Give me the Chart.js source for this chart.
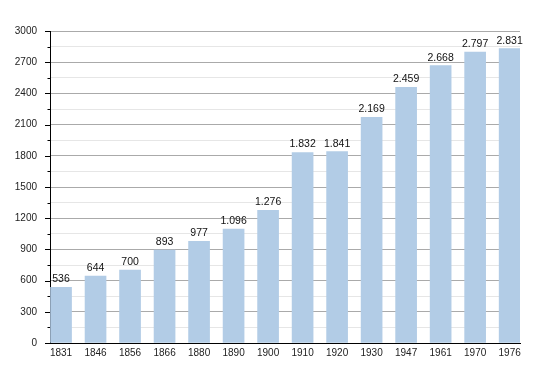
<!DOCTYPE html>
<html>
<head>
<meta charset="utf-8">
<script src="https://cdn.jsdelivr.net/npm/chart.js@4"></script>
<style>
  body { margin: 0; background: #fff; }
</style>
</head>
<body>
<canvas id="popChart" width="550" height="373"></canvas>
<script>
// population by census year
const years = ['1831', '1846', '1856', '1866', '1880', '1890', '1900', '1910', '1920', '1930', '1947', '1961', '1970', '1976'];
const population = [536, 644, 700, 893, 977, 1096, 1276, 1832, 1841, 2169, 2459, 2668, 2797, 2831];
const yTicks = [0, 300, 600, 900, 1200, 1500, 1800, 2100, 2400, 2700, 3000];

function formatThousands(v) {
    return String(v).replace(/\B(?=(\d{3})+(?!\d))/g, '.');
}

// values on top of the bars
const barLabels = {
    id: 'barLabels',
    afterDatasetsDraw(chart) {
        const ctx = chart.ctx;
        const meta = chart.getDatasetMeta(0);
        ctx.save();
        ctx.font = '10.5px "Liberation Sans", Arial, sans-serif';
        ctx.fillStyle = '#111';
        ctx.textAlign = 'center';
        ctx.textBaseline = 'alphabetic';
        meta.data.forEach((bar, i) => {
            ctx.fillText(formatThousands(population[i]), bar.x, bar.y - 5);
        });
        ctx.restore();
    }
};

// small tick marks left of the y axis, shorter for the minor steps
const yTickMarks = {
    id: 'yTickMarks',
    afterDraw(chart) {
        const ctx = chart.ctx;
        const y = chart.scales.y;
        const left = chart.chartArea.left;
        ctx.save();
        ctx.strokeStyle = '#000';
        ctx.lineWidth = 1;
        y.ticks.forEach(t => {
            const py = Math.round(y.getPixelForValue(t.value)) + 0.5;
            const len = yTicks.includes(t.value) ? 5 : 2.5;
            ctx.beginPath();
            ctx.moveTo(left - len, py);
            ctx.lineTo(left, py);
            ctx.stroke();
        });
        ctx.restore();
    }
};

new Chart(document.getElementById('popChart').getContext('2d'), {
    type: 'bar',
    data: {
        datasets: [{
            data: years.map((yr, i) => ({ x: i, y: population[i] })),
            backgroundColor: '#b2cce6',
            borderWidth: 0,
            barThickness: 21
        }]
    },
    options: {
        responsive: false,
        animation: false,
        layout: {
            padding: { top: 31, right: 30, bottom: 0, left: 0 }
        },
        plugins: {
            legend: { display: false },
            tooltip: { enabled: false }
        },
        scales: {
            x: {
                type: 'linear',
                offset: false,
                min: -0.32,
                max: 13.3,
                grid: { display: false, drawTicks: false, offset: false },
                border: { color: '#000', width: 1 },
                afterBuildTicks: function(scale) {
                    scale.ticks = years.map((yr, i) => ({ value: i }));
                },
                afterFit: function(scale) {
                    scale.height = 30;
                },
                ticks: {
                    autoSkip: false,
                    maxRotation: 0,
                    padding: 4,
                    color: '#222',
                    font: { family: '"Liberation Sans", Arial, sans-serif', size: 10 },
                    callback: function(value) {
                        return years[value];
                    }
                }
            },
            y: {
                min: 0,
                max: 3000,
                border: { color: '#000', width: 1 },
                grid: {
                    drawTicks: false,
                    color: function(context) {
                        return yTicks.includes(context.tick.value) ? '#aaaaaa' : '#e6e6e6';
                    }
                },
                afterFit: function(scale) {
                    scale.width = 50;
                },
                ticks: {
                    stepSize: 150,
                    padding: 13,
                    autoSkip: false,
                    color: '#222',
                    font: { family: '"Liberation Sans", Arial, sans-serif', size: 10 },
                    callback: function(value) {
                        return yTicks.includes(value) ? value : '';
                    }
                }
            }
        }
    },
    plugins: [barLabels, yTickMarks]
});
</script>
</body>
</html>
